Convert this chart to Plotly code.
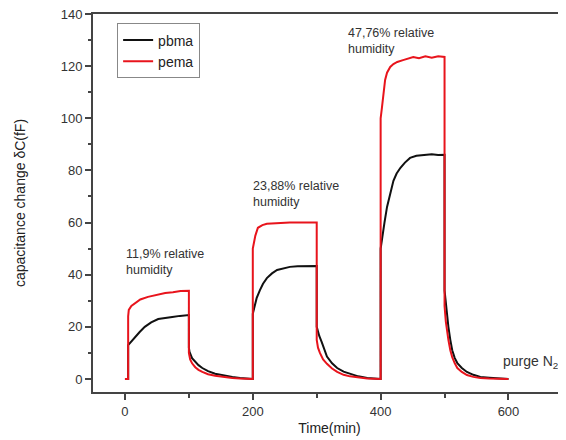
import plotly.graph_objects as go

# pbma (black)
t_pbma = [0, 5, 5, 10, 16, 23, 31, 41, 52, 63, 74, 86, 100,
          100, 101, 105, 110, 115, 121, 130, 141, 155, 168, 180, 190, 200,
          200, 202, 206, 211, 216, 222, 230, 238, 248, 258, 270, 285, 300,
          300, 301, 304, 308, 312, 316, 324, 332, 342, 352, 365, 379, 390, 400,
          400, 402, 406, 410, 415, 420, 425, 431, 438, 446, 456, 467, 480, 490, 500,
          500, 502, 506, 509, 512, 516, 520, 527, 535, 545, 556, 570, 583, 600]
v_pbma = [0, 0, 13, 14.5, 16, 18, 20, 21.7, 23, 23.5, 23.8, 24.2, 24.5,
          12, 10.4, 8, 6.5, 5.3, 4.2, 3.0, 2.0, 1.3, 0.8, 0.4, 0.2, 0,
          25, 27.5, 31, 34, 36.5, 38.7, 40.5, 41.8, 42.5, 43, 43.2, 43.3, 43.3,
          20, 18.8, 16.5, 14, 11, 8.6, 6, 4.2, 2.8, 1.9, 1.0, 0.4, 0.2, 0,
          50, 54, 60, 66, 71.5, 76, 78.8, 81, 83, 84.8, 85.6, 86, 86.2, 85.9, 86,
          34, 29, 20, 15, 11, 8, 6.1, 4.2, 2.7, 1.6, 0.8, 0.5, 0.3, 0]

# pema (red)
t_pema = [0, 5, 5, 6, 10, 16, 24, 36, 50, 63, 75, 87, 100,
          100, 102, 105, 110, 115, 121, 130, 141, 155, 168, 180, 200,
          200, 202, 204, 208, 215, 222, 240, 258, 280, 300,
          300, 302, 305, 310, 316, 324, 332, 342, 352, 365, 379, 400,
          400, 402, 404, 407, 410, 415, 420, 426, 435, 451, 460, 470, 480, 490, 500,
          500, 502, 504, 506, 509, 512, 516, 520, 527, 535, 545, 556, 570, 583, 600]
v_pema = [0, 0, 24, 26.5, 28, 29, 30.5, 31.5, 32.3, 33, 33.3, 33.7, 33.8,
          10, 7.5, 6, 4.5, 3.5, 2.7, 1.8, 1.2, 0.7, 0.4, 0.2, 0,
          50, 53, 55, 58, 59, 59.5, 59.8, 60, 60, 60,
          15, 12, 10, 7.5, 5.8, 4, 2.7, 1.6, 1.0, 0.5, 0.2, 0,
          100, 104, 108, 114.7, 117.5, 119.7, 120.8, 121.6, 122.3, 123.5, 123, 123.8, 123.2, 123.8, 123.5,
          28, 22, 18, 15, 11, 8.4, 6, 4.2, 2.7, 1.5, 0.8, 0.4, 0.2, 0.1, 0]

x_ticks = [0, 200, 400, 600]
y_ticks = [0, 20, 40, 60, 80, 100, 120, 140]

FONT = "Liberation Sans, Arial, sans-serif"
TXT = "#333333"

fig = go.Figure()
fig.add_trace(go.Scatter(x=t_pbma, y=v_pbma, mode="lines", name="pbma",
                         line=dict(color="#111111", width=2)))
fig.add_trace(go.Scatter(x=t_pema, y=v_pema, mode="lines", name="pema",
                         line=dict(color="#e8141c", width=2)))

# page body adds an 8px offset, so the figure is 8px smaller and margins shifted
fig.update_layout(
    width=558, height=432,
    margin=dict(l=85, r=0, t=6, b=48),
    paper_bgcolor="white", plot_bgcolor="white",
    font=dict(family=FONT, color=TXT, size=12),
    showlegend=True,
    legend=dict(x=0.051, y=0.975, xanchor="left", yanchor="top",
                bordercolor="#888888", borderwidth=1, bgcolor="white",
                font=dict(size=14, color="#222222"), tracegroupgap=0),
    xaxis=dict(range=[-50, 690], tickvals=x_ticks, ticktext=[str(v) for v in x_ticks],
               showgrid=False, zeroline=False, showline=True, linecolor="#444444",
               linewidth=2, mirror=True, ticks="outside", ticklen=6, tickwidth=1.5,
               tickcolor="#444444",
               minor=dict(tickvals=[100, 300, 500], ticks="outside", ticklen=4,
                          tickcolor="#444444", tickwidth=1.5),
               tickfont=dict(size=13, color=TXT),
               title=dict(text="Time(min)", font=dict(size=14, color="#222222"), standoff=6)),
    yaxis=dict(range=[-5, 140], tickvals=y_ticks, showgrid=False, zeroline=False,
               showline=True, linecolor="#444444", linewidth=2, mirror=False,
               ticks="outside", ticklen=6, tickwidth=1.5, tickcolor="#444444",
               ticklabeloverflow="allow",
               minor=dict(tickvals=[10, 30, 50, 70, 90, 110, 130], ticks="outside",
                          ticklen=3, tickcolor="#444444", tickwidth=1.5),
               tickfont=dict(size=13, color=TXT),
               title=dict(text="capacitance change δC(fF)", font=dict(size=14, color="#222222"),
                          standoff=32)),
)

ann = dict(xref="paper", yref="paper", showarrow=False, align="left",
           xanchor="left", yanchor="top", font=dict(size=12.5, color=TXT, family=FONT))
fig.add_annotation(text="11,9% relative<br>humidity", x=0.0655, y=0.389, **ann)
fig.add_annotation(text="23,88% relative<br>humidity", x=0.334, y=0.569, **ann)
fig.add_annotation(text="47,76% relative<br>humidity", x=0.535, y=0.974, **ann)
fig.add_annotation(text="purge N<sub>2</sub>", xref="paper", yref="paper", showarrow=False,
                   x=0.862, y=0.079, xanchor="left", yanchor="middle",
                   font=dict(size=14, color=TXT, family=FONT))

fig.write_html("out.html")
